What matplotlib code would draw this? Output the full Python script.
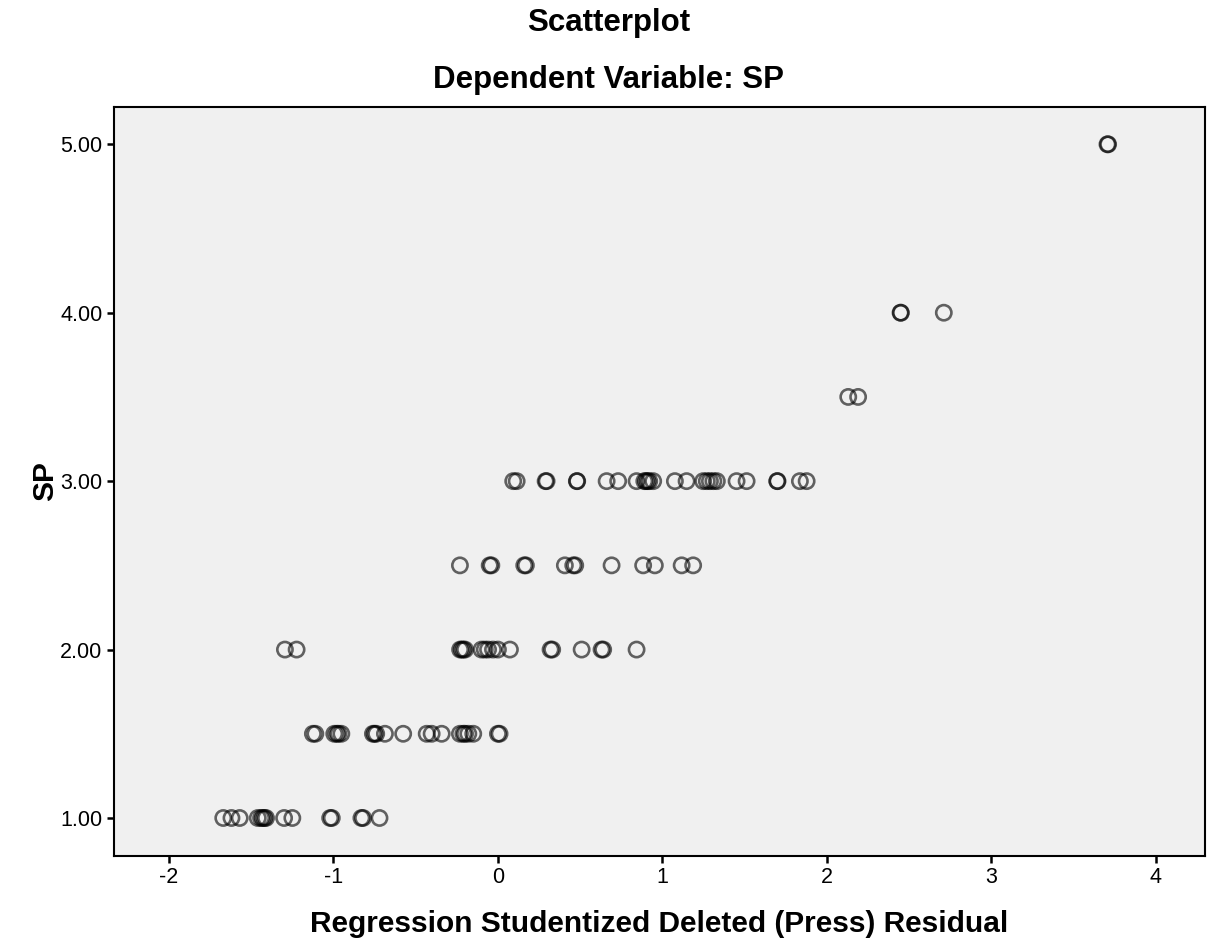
import numpy as np
import matplotlib.pyplot as plt

plt.rcParams['font.family'] = ['Liberation Sans', 'DejaVu Sans']
plt.rcParams['axes.unicode_minus'] = False

# residuals, one list per SP level
res_100 = [-1.67, -1.62, -1.57, -1.46, -1.44, -1.43, -1.42, -1.41, -1.30, -1.25,
           -1.02, -1.01, -0.83, -0.82, -0.72]
res_150 = [-1.125, -1.11, -0.995, -0.98, -0.97, -0.952, -0.76, -0.75, -0.74, -0.687,
           -0.576, -0.433, -0.403, -0.342, -0.231, -0.21, -0.20, -0.18, -0.15, 0.0, 0.01]
res_200 = [-1.295, -1.224, -0.23, -0.22, -0.21, -0.20, -0.10, -0.08, -0.06, -0.03,
           0.0, 0.073, 0.32, 0.33, 0.509, 0.63, 0.64, 0.843]
res_250 = [-0.231, -0.05, -0.04, 0.16, 0.17, 0.407, 0.458, 0.47, 0.691, 0.883,
           0.954, 1.117, 1.187]
res_300 = [0.093, 0.114, 0.296, 0.29, 0.482, 0.48, 0.661, 0.731, 0.843, 0.89, 0.90,
           0.91, 0.92, 0.944, 1.076, 1.147, 1.248, 1.27, 1.289, 1.31, 1.331, 1.451,
           1.512, 1.698, 1.70, 1.836, 1.877]
res_350 = [2.13, 2.19]
res_400 = [2.448, 2.45, 2.711]
res_500 = [3.706, 3.71]

groups = {1.0: res_100, 1.5: res_150, 2.0: res_200, 2.5: res_250,
          3.0: res_300, 3.5: res_350, 4.0: res_400, 5.0: res_500}

x = []
y = []
for sp, vals in groups.items():
    x += vals
    y += [sp] * len(vals)

fig = plt.figure(figsize=(12.17, 9.49), dpi=100)
ax = fig.add_axes([0.0933, 0.0983, 0.8967, 0.7887])
ax.set_facecolor('#f0f0f0')

ax.scatter(x, y, s=120, facecolors='none', edgecolors=(0, 0, 0, 0.6), linewidths=1.9)

ax.set_xlim(-2.337, 4.298)
ax.set_ylim(0.776, 5.22)
ax.set_xticks([-2, -1, 0, 1, 2, 3, 4])
ax.set_yticks([1, 2, 3, 4, 5])
ax.set_yticklabels(['1.00', '2.00', '3.00', '4.00', '5.00'])
ax.tick_params(direction='out', length=5, width=1.8, labelsize=15.5, colors='black',
               pad=3)

for sp in ax.spines.values():
    sp.set_linewidth(1.5)

ax.set_xlabel('Regression Studentized Deleted (Press) Residual', fontsize=21.5,
              fontweight='bold', labelpad=16)
ax.set_ylabel('SP', fontsize=21.5, fontweight='bold', labelpad=1)

fig.text(0.5, 0.976, 'Scatterplot', ha='center', va='center', fontsize=22.5, fontweight='bold')
fig.text(0.5, 0.916, 'Dependent Variable: SP', ha='center', va='center', fontsize=22.5,
         fontweight='bold')

fig.savefig('out.png', dpi=100)
